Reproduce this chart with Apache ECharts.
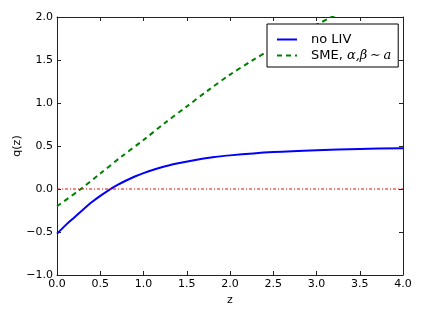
<!DOCTYPE html>
<html>
<head>
<meta charset="utf-8">
<script src="https://cdn.jsdelivr.net/npm/echarts@6/dist/echarts.min.js"></script>
<style>
html,body{margin:0;padding:0;background:#fff;}
#c{width:424px;height:318px;}
</style>
</head>
<body>
<div id="c"></div>
<script>
// values
const zNoLIV = [0, 0.1, 0.2, 0.3, 0.4, 0.5, 0.6, 0.7, 0.8, 0.9, 1.0, 1.2, 1.4, 1.6, 1.8, 2.0, 2.5, 3.0, 3.5, 4.0];
const qNoLIV = [-0.52, -0.42, -0.33, -0.24, -0.155, -0.08, -0.012, 0.047, 0.099, 0.145, 0.185, 0.251, 0.300, 0.338, 0.368, 0.391, 0.429, 0.452, 0.466, 0.475];
const zSME = [0, 0.25, 0.5, 0.75, 1.0, 1.25, 1.5, 1.75, 2.0, 2.25, 2.5, 2.75, 3.0, 3.25, 3.5];
const qSME = [-0.20, -0.02, 0.18, 0.38, 0.57, 0.77, 0.96, 1.15, 1.33, 1.49, 1.64, 1.78, 1.91, 2.04, 2.16];
const zZero = [0, 4];
const qZero = [0, 0];
const seriesNames = ['no LIV', 'SME, α,β∼a'];

const pairs = (xs, ys) => xs.map((x, i) => [x, ys[i]]);
const fmt = v => (v < 0 ? '\u2212' : '') + Math.abs(v).toFixed(1);
const FONT = 'DejaVu Sans';

const axisCommon = {
  type: 'value',
  interval: 0.5,
  axisLine: { show: true, onZero: false, lineStyle: { color: '#222', width: 1 } },
  axisTick: { show: true, inside: true, length: 4, lineStyle: { color: '#222' } },
  splitLine: { show: false }
};

const chart = echarts.init(document.getElementById('c'), null, { renderer: 'canvas' });
chart.setOption({
  animation: false,
  backgroundColor: '#fff',
  textStyle: { fontFamily: FONT },
  grid: { left: 57, right: 21, top: 17, bottom: 43 },
  legend: {
    orient: 'vertical',
    left: 267,
    top: 24,
    padding: [9, 7, 5, 9],
    itemWidth: 20,
    itemHeight: 10,
    itemGap: 3,
    borderColor: '#000',
    borderWidth: 1,
    backgroundColor: '#fff',
    itemStyle: { opacity: 0 },
    data: seriesNames,
    textStyle: {
      fontFamily: FONT, fontSize: 13, lineHeight: 13, color: '#000', padding: [0, 0, 0, 9],
      rich: {
        m: { fontFamily: 'DejaVu Serif', fontStyle: 'italic', fontSize: 13, lineHeight: 13, color: '#000' }
      }
    },
    formatter: function (name) {
      if (name.indexOf('SME') === 0) return 'SME, {m|α,β\u2009∼\u2009a}';
      return name;
    }
  },
  xAxis: [
    Object.assign({}, axisCommon, {
      min: 0, max: 4, position: 'bottom',
      name: 'z', nameLocation: 'middle', nameGap: 15,
      nameTextStyle: { fontFamily: FONT, fontSize: 11, color: '#000' },
      axisLabel: { show: true, margin: 4, fontFamily: FONT, fontSize: 11, color: '#000', formatter: fmt }
    }),
    Object.assign({}, axisCommon, {
      min: 0, max: 4, position: 'top', axisLabel: { show: false }
    })
  ],
  yAxis: [
    Object.assign({}, axisCommon, {
      min: -1, max: 2, position: 'left',
      name: 'q(z)', nameLocation: 'middle', nameGap: 34, nameRotate: 90, nameMoveOverlap: false,
      nameTextStyle: { fontFamily: FONT, fontSize: 11, color: '#000' },
      axisLabel: { show: true, margin: 4, fontFamily: FONT, fontSize: 11, color: '#000', formatter: fmt }
    }),
    Object.assign({}, axisCommon, {
      min: -1, max: 2, position: 'right', axisLabel: { show: false }
    })
  ],
  series: [
    {
      name: seriesNames[0], type: 'line', xAxisIndex: 0, yAxisIndex: 0,
      data: pairs(zNoLIV, qNoLIV), smooth: 0.3, symbol: 'none', clip: true,
      itemStyle: { color: '#0000ff' },
      lineStyle: { color: '#0000ff', width: 2 }
    },
    {
      name: seriesNames[1], type: 'line', xAxisIndex: 0, yAxisIndex: 0,
      data: pairs(zSME, qSME), smooth: 0.3, symbol: 'none', clip: true,
      itemStyle: { color: '#008000' },
      lineStyle: { color: '#008000', width: 2, type: [5, 4] }
    },
    {
      name: 'zero', type: 'line', xAxisIndex: 0, yAxisIndex: 0,
      data: pairs(zZero, qZero), symbol: 'none', silent: true,
      itemStyle: { color: '#ff0000' },
      lineStyle: { color: '#ff0000', width: 1, type: [3, 2, 1, 2] }
    }
  ]
});
</script>
</body>
</html>
